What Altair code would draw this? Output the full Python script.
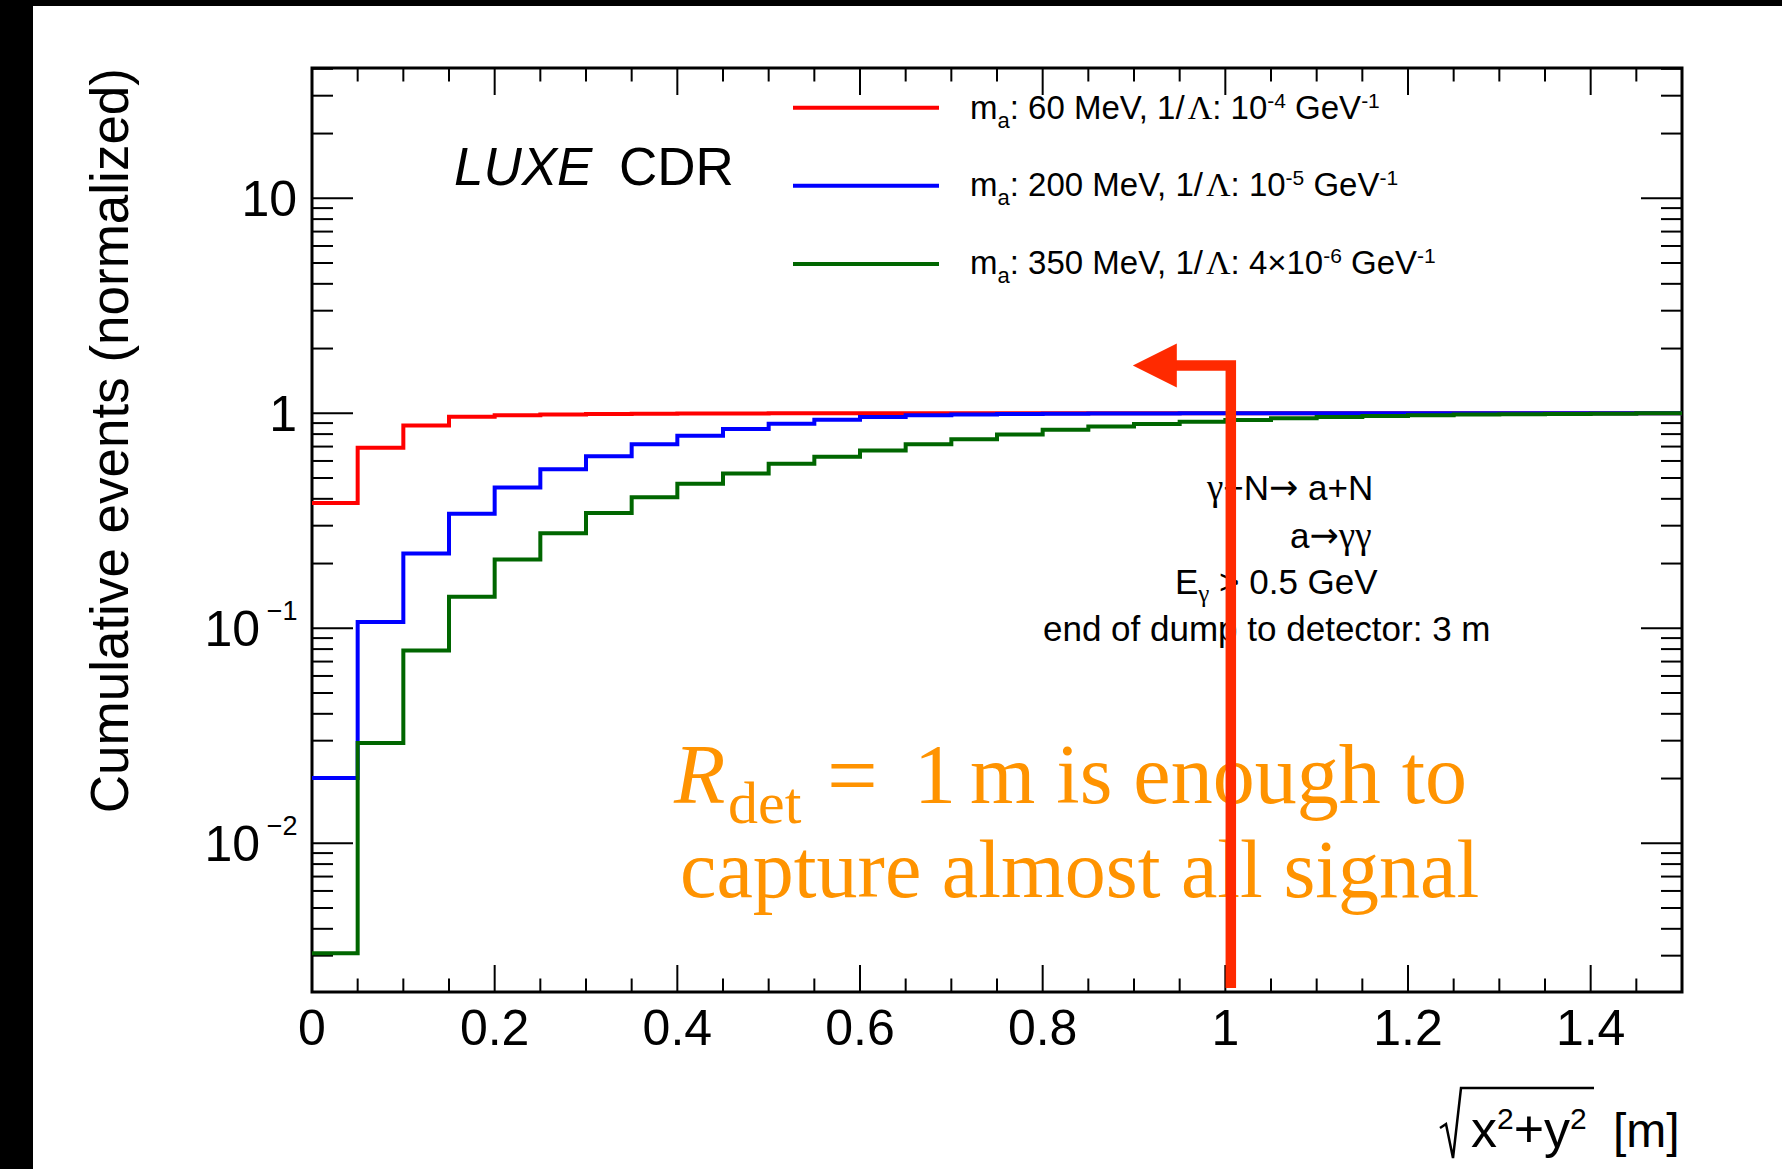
import altair as alt
import pandas as pd

# ---------------- data ----------------
bin_low = [0.00, 0.05, 0.10, 0.15, 0.20, 0.25, 0.30, 0.35, 0.40, 0.45,
           0.50, 0.55, 0.60, 0.65, 0.70, 0.75, 0.80, 0.85, 0.90, 0.95,
           1.00, 1.05, 1.10, 1.15, 1.20, 1.25, 1.30, 1.35, 1.40, 1.45]
x_max = 1.5

red_60 = [0.383, 0.691, 0.877, 0.964, 0.980, 0.988, 0.992, 0.995, 0.997, 0.998,
          0.999, 0.999, 1.0, 1.0, 1.0, 1.0, 1.0, 1.0, 1.0, 1.0,
          1.0, 1.0, 1.0, 1.0, 1.0, 1.0, 1.0, 1.0, 1.0, 1.0]
blue_200 = [0.0201, 0.107, 0.223, 0.341, 0.451, 0.549, 0.631, 0.717, 0.785, 0.845,
            0.895, 0.933, 0.960, 0.979, 0.988, 0.992, 0.995, 0.997, 0.998, 0.999,
            0.999, 1.0, 1.0, 1.0, 1.0, 1.0, 1.0, 1.0, 1.0, 1.0]
green_350 = [0.00308, 0.0293, 0.0788, 0.140, 0.209, 0.277, 0.344, 0.407, 0.470, 0.525,
             0.582, 0.627, 0.672, 0.718, 0.757, 0.796, 0.838, 0.867, 0.892, 0.914,
             0.931, 0.948, 0.961, 0.972, 0.979, 0.986, 0.990, 0.993, 0.996, 1.0]

series_colors = ["#ff0000", "#0000ff", "#006600"]
legend_mass = ["60 MeV, 1/", "200 MeV, 1/", "350 MeV, 1/"]
legend_coup = [": 10", ": 10", ": 4×10"]
legend_exp = ["-4", "-5", "-6"]

x_major = [0.0, 0.2, 0.4, 0.6, 0.8, 1.0, 1.2, 1.4]
x_major_labels = ["0", "0.2", "0.4", "0.6", "0.8", "1", "1.2", "1.4"]
x_minor = [0.05, 0.10, 0.15, 0.25, 0.30, 0.35, 0.45, 0.50, 0.55, 0.65, 0.70,
           0.75, 0.85, 0.90, 0.95, 1.05, 1.10, 1.15, 1.25, 1.30, 1.35, 1.45]
y_major = [0.01, 0.1, 1, 10]
y_minor = [0.003, 0.004, 0.005, 0.006, 0.007, 0.008, 0.009,
           0.02, 0.03, 0.04, 0.05, 0.06, 0.07, 0.08, 0.09,
           0.2, 0.3, 0.4, 0.5, 0.6, 0.7, 0.8, 0.9,
           2, 3, 4, 5, 6, 7, 8, 9, 20, 30, 40]
y_domain = [0.002033, 40.36]
y_label_vals = [10, 1, 0.1, 0.01]
y_label_base = ["10", "1", "10", "10"]
y_label_sup = ["", "", "−1", "−2"]

y_title = "Cumulative events (normalized)"
info_last = "end of dump to detector: 3 m"

# arrow annotation (data coordinates)
arrow_x = 1.006
arrow_y_low = 0.00212
arrow_y_turn = 1.668
arrow_x_end = 0.94
arrow_head_x = 0.9228

# ---------------- layout / style ----------------
W, H = 1370, 924
PL, PT, PR, PB = 312, 68, 100, 177
SANS = "Liberation Sans"
SERIF = "Liberation Serif"
DEJAVU = "DejaVu Sans"
ORANGE = "#ff9300"
ARROW = "#ff2a00"

xs = alt.Scale(domain=[0, x_max], nice=False, zero=False)
ys = alt.Scale(type="log", domain=y_domain, nice=False)

WID = {' ': 278, ':': 278, ',': 278, '.': 278, '/': 278, 'M': 833, 'e': 556,
       'V': 667, 'G': 778, 'm': 833, 'a': 556, '×': 584, 'Λ': 722, '-': 333,
       '−': 584, '>': 584, '+': 584, 'N': 722, 'γ': 440, '→': 838, 'E': 667,
       'n': 556, 'd': 556, 'o': 556, 'f': 278, 'u': 556, 'p': 556, 't': 278,
       'c': 500, 'r': 333, 'x': 500, 'y': 500, '[': 278, ']': 278}


def tw(s, fs):
    return sum(WID.get(c, 556) for c in s) * fs / 1000.0


def add_pieces(rows, parts, x0, base):
    x = x0
    for p in parts:
        text, fs, dy = p[0], p[1], p[2]
        fam = p[3] if len(p) > 3 else "sans"
        lead = len(text) - len(text.lstrip(" "))
        rows.append({"px": x + tw(text[:lead], fs) - PL, "py": base + dy - PT,
                     "text": text.strip(" "), "fs": fs, "fam": fam})
        x += tw(text, fs)


def step_df(vals):
    return pd.DataFrame({"x": bin_low + [x_max], "y": vals + [vals[-1]]})


one = pd.DataFrame({"a": [0]})
layers = []

# black slide border (left and top)
layers.append(alt.Chart(one).mark_rect(color="black").encode(
    x=alt.value(-PL), x2=alt.value(-PL + 33), y=alt.value(-PT), y2=alt.value(1169 - PT)))
layers.append(alt.Chart(one).mark_rect(color="black").encode(
    x=alt.value(-PL), x2=alt.value(1782 - PL), y=alt.value(-PT), y2=alt.value(-PT + 6)))

# inward ticks
for vals, ln in [(x_major, 27), (x_minor, 13.5)]:
    b = alt.Chart(pd.DataFrame({"t": vals}))
    layers.append(b.mark_rule(color="black", strokeWidth=2).encode(
        x=alt.X("t:Q", scale=xs, axis=None), y=alt.value(H), y2=alt.value(H - ln)))
    layers.append(b.mark_rule(color="black", strokeWidth=2).encode(
        x=alt.X("t:Q", scale=xs, axis=None), y=alt.value(0), y2=alt.value(ln)))
for vals, ln in [(y_major, 41), (y_minor, 21)]:
    b = alt.Chart(pd.DataFrame({"t": vals}))
    layers.append(b.mark_rule(color="black", strokeWidth=2).encode(
        y=alt.Y("t:Q", scale=ys, axis=None), x=alt.value(0), x2=alt.value(ln)))
    layers.append(b.mark_rule(color="black", strokeWidth=2).encode(
        y=alt.Y("t:Q", scale=ys, axis=None), x=alt.value(W), x2=alt.value(W - ln)))

# histograms
for vals, col in zip([red_60, blue_200, green_350], series_colors):
    layers.append(alt.Chart(step_df(vals)).mark_line(
        interpolate="step-after", color=col, strokeWidth=4, strokeCap="butt").encode(
        x=alt.X("x:Q", scale=xs, axis=None),
        y=alt.Y("y:Q", scale=ys, axis=None)))

# x axis labels
layers.append(alt.Chart(pd.DataFrame({"t": x_major, "lab": x_major_labels})).mark_text(
    align="center", baseline="alphabetic", fontSize=50, font=SANS, color="black").encode(
    x=alt.X("t:Q", scale=xs, axis=None), y=alt.value(1044.5 - PT), text="lab:N"))

# y axis labels
ylab = pd.DataFrame({"v": y_label_vals, "base": y_label_base, "sup": y_label_sup})
ylab["bx"] = [-15 if s == "" else -52 for s in y_label_sup]
ylab["sx"] = -45.3
layers.append(alt.Chart(ylab).mark_text(
    align="right", baseline="middle", dy=2.5, fontSize=50, font=SANS, color="black").encode(
    x=alt.X("bx:Q", scale=None), y=alt.Y("v:Q", scale=ys, axis=None), text="base:N"))
layers.append(alt.Chart(ylab[ylab["sup"] != ""]).mark_text(
    align="left", baseline="alphabetic", dy=-8, fontSize=27, font=SANS, color="black").encode(
    x=alt.X("sx:Q", scale=None), y=alt.Y("v:Q", scale=ys, axis=None), text="sup:N"))

# y title
layers.append(alt.Chart(pd.DataFrame({"t": [y_title]})).mark_text(
    angle=270, align="right", baseline="alphabetic", fontSize=53, font=SANS, color="black").encode(
    x=alt.value(128 - PL), y=alt.value(0), text="t:N"))

# legend lines
leg_y = [107.7, 185.7, 264.0]
leg_base = [119, 196, 273.5]
layers.append(alt.Chart(pd.DataFrame({
    "x1": [793 - PL] * 3, "x2": [939 - PL] * 3, "ly": [v - PT for v in leg_y],
    "c": series_colors})).mark_rule(strokeWidth=4).encode(
    x=alt.X("x1:Q", scale=None), x2="x2:Q", y=alt.Y("ly:Q", scale=None),
    color=alt.Color("c:N", scale=None)))

# black text pieces
rows = []
for k in range(3):
    add_pieces(rows, [("m", 33, 0), ("a", 22, 9), (": " + legend_mass[k], 33, 0),
                      ("Λ", 34, 0, "serif"), (legend_coup[k], 33, 0),
                      (legend_exp[k], 21, -11), (" GeV", 33, 0), ("-1", 21, -11)],
               970, leg_base[k])
add_pieces(rows, [("γ", 37, 0, "serif"), ("+N", 35, 0), ("→", 35, -1, "dejavu"),
                  (" a+N", 35, 0)], 1207, 500)
add_pieces(rows, [("a", 35, 0), ("→", 35, -1, "dejavu"), ("γγ", 37, 0, "serif")], 1290, 547.5)
add_pieces(rows, [("E", 35, 0), ("γ", 25, 8, "serif"), (" > 0.5 GeV", 35, 0)], 1175, 593.5)
add_pieces(rows, [(info_last, 35, 0)], 1043, 640.6)
add_pieces(rows, [("CDR", 53, 0)], 619, 185)
add_pieces(rows, [("x", 52, 0), ("2", 30, -18), ("+", 52, 0), ("y", 52, 0), ("2", 30, -18)],
           1471, 1147)
add_pieces(rows, [("[m]", 48, 0)], 1613, 1147)
tdf = pd.DataFrame(rows)
for fam, fname in [("sans", SANS), ("serif", SERIF), ("dejavu", DEJAVU)]:
    layers.append(alt.Chart(tdf[tdf["fam"] == fam]).mark_text(
        align="left", baseline="alphabetic", font=fname, color="black").encode(
        x=alt.X("px:Q", scale=None), y=alt.Y("py:Q", scale=None), text="text:N",
        size=alt.Size("fs:Q", scale=None)))

# LUXE italic
layers.append(alt.Chart(pd.DataFrame({"t": ["LUXE"]})).mark_text(
    align="left", baseline="alphabetic", font=SANS, fontStyle="italic", fontSize=53,
    color="black").encode(x=alt.value(454 - PL), y=alt.value(185 - PT), text="t:N"))

# radical sign of the x title
layers.append(alt.Chart(pd.DataFrame({
    "rx": [1440 - PL, 1446 - PL, 1453 - PL, 1461 - PL, 1594 - PL],
    "ry": [1128 - PT, 1124 - PT, 1158 - PT, 1088 - PT, 1088 - PT],
    "o": [0, 1, 2, 3, 4]})).mark_line(color="black", strokeWidth=2.5).encode(
    x=alt.X("rx:Q", scale=None), y=alt.Y("ry:Q", scale=None), order="o:Q"))

# orange statement
orange_rows = pd.DataFrame({
    "text": ["det", "=", "1", "m is enough to", "capture almost all signal"],
    "fs": [60, 90, 84, 84, 82],
    "px": [728 - PL, 827 - PL, 914 - PL, 970 - PL, 680 - PL],
    "py": [823 - PT, 806 - PT, 803 - PT, 803 - PT, 897 - PT]})
layers.append(alt.Chart(orange_rows).mark_text(
    align="left", baseline="alphabetic", font=SERIF, color=ORANGE).encode(
    x=alt.X("px:Q", scale=None), y=alt.Y("py:Q", scale=None), text="text:N",
    size=alt.Size("fs:Q", scale=None)))
layers.append(alt.Chart(pd.DataFrame({"t": ["R"]})).mark_text(
    align="left", baseline="alphabetic", font=SERIF, fontStyle="italic", fontSize=84,
    color=ORANGE).encode(x=alt.value(674 - PL), y=alt.value(803 - PT), text="t:N"))

# red arrow
arrow_df = pd.DataFrame({"x": [arrow_x, arrow_x, arrow_x_end],
                         "y": [arrow_y_low, arrow_y_turn, arrow_y_turn], "o": [0, 1, 2]})
layers.append(alt.Chart(arrow_df).mark_line(
    color=ARROW, strokeWidth=10.5, strokeJoin="miter", strokeCap="butt").encode(
    x=alt.X("x:Q", scale=xs, axis=None), y=alt.Y("y:Q", scale=ys, axis=None), order="o:Q"))
layers.append(alt.Chart(pd.DataFrame({"x": [arrow_head_x], "y": [arrow_y_turn]})).mark_point(
    shape="M1,-1L-1,0L1,1Z", filled=True, size=1936, color=ARROW, opacity=1, strokeWidth=0).encode(
    x=alt.X("x:Q", scale=xs, axis=None), y=alt.Y("y:Q", scale=ys, axis=None)))

chart = alt.layer(*layers).properties(
    width=W, height=H,
    padding={"left": PL, "top": PT, "right": PR, "bottom": PB},
    autosize=alt.AutoSizeParams(type="none"),
    background="white",
).configure_view(stroke="black", strokeWidth=3)

chart.save("out.html", embed_options={"renderer": "svg", "actions": False})
